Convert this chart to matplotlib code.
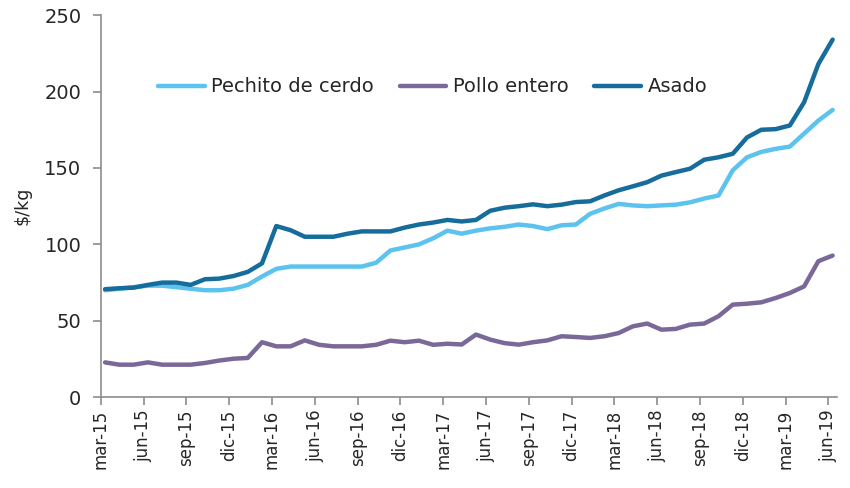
import numpy as np
import matplotlib
matplotlib.use("Agg")
import matplotlib.pyplot as plt

# monthly prices ($/kg), mar-15 .. jun-19
pechito = [70, 71, 72, 73, 73, 72, 71, 70, 70, 71, 73.5, 79, 84, 85.5, 85.5, 85.5,
           85.5, 85.5, 85.5, 88, 96, 98, 100, 104, 109, 107, 109, 110.5, 111.5, 113,
           112, 110, 112.5, 113, 120, 123.5, 126.5, 125.5, 125, 125.5, 126, 127.5, 130,
           132, 148.5, 157, 160.5, 162.5, 164, 172.5, 181, 188]
pollo = [22.8, 21.3, 21.3, 22.8, 21.3, 21.3, 21.3, 22.4, 24, 25.2, 25.7, 36, 33.3, 33.3,
         37.2, 34.3, 33.3, 33.3, 33.3, 34.3, 37, 36, 37, 34.3, 35, 34.5, 41, 37.7, 35.4,
         34.4, 36, 37.2, 39.9, 39.4, 38.8, 39.9, 42, 46.4, 48.2, 44.2, 44.7, 47.5, 48.2,
         53, 60.6, 61.2, 62.1, 64.9, 68.2, 72.5, 89, 92.7]
asado = [70.7, 71.3, 71.7, 73.5, 75, 75, 73.5, 77.2, 77.6, 79.3, 82, 87.6, 112, 109.3,
         105, 105, 105, 107, 108.5, 108.5, 108.5, 111, 113, 114.3, 116, 115, 116, 122,
         124, 125, 126.2, 125, 126, 127.7, 128.2, 132, 135.4, 138, 140.7, 145, 147.3,
         149.5, 155.4, 157, 159.3, 170, 175, 175.4, 177.8, 193, 218, 234]

tick_labels = ["mar-15", "jun-15", "sep-15", "dic-15", "mar-16", "jun-16", "sep-16",
               "dic-16", "mar-17", "jun-17", "sep-17", "dic-17", "mar-18", "jun-18",
               "sep-18", "dic-18", "mar-19", "jun-19"]

x = np.arange(len(asado)) + 0.3

fig = plt.figure(figsize=(8.5, 4.88), dpi=100)
ax = fig.add_axes([0.1186, 0.186, 0.866, 0.783])

ax.plot(x, pechito, color="#5cc3ee", lw=3.2, label="Pechito de cerdo", solid_capstyle="round")
ax.plot(x, pollo, color="#7a6898", lw=3.2, label="Pollo entero", solid_capstyle="round")
ax.plot(x, asado, color="#166d9c", lw=3.2, label="Asado", solid_capstyle="round")

ax.set_xlim(0, 51.6)
ax.set_ylim(0, 250)
ax.set_yticks(range(0, 251, 50))
ax.set_xticks(np.arange(0, 52, 3))
ax.set_xticklabels(tick_labels, rotation=90)

for s in ["top", "right"]:
    ax.spines[s].set_visible(False)
for s in ["left", "bottom"]:
    ax.spines[s].set_color("#8c8c8c")
    ax.spines[s].set_linewidth(1.2)
ax.tick_params(axis="both", direction="out", length=6, width=1.2, color="#8c8c8c",
               labelcolor="#262626")
ax.tick_params(axis="y", labelsize=14, pad=8)
ax.tick_params(axis="x", labelsize=12, pad=3)

ax.set_ylabel("$/kg", fontsize=12.5, color="#262626", labelpad=9)

ax.legend(loc="center left", bbox_to_anchor=(0.0777, 0.812), ncol=3, frameon=False,
          fontsize=14, borderpad=0, borderaxespad=0, handlelength=2.4,
          handletextpad=0.35, columnspacing=1.3, labelcolor="#262626")

fig.savefig("out.png", dpi=100)
